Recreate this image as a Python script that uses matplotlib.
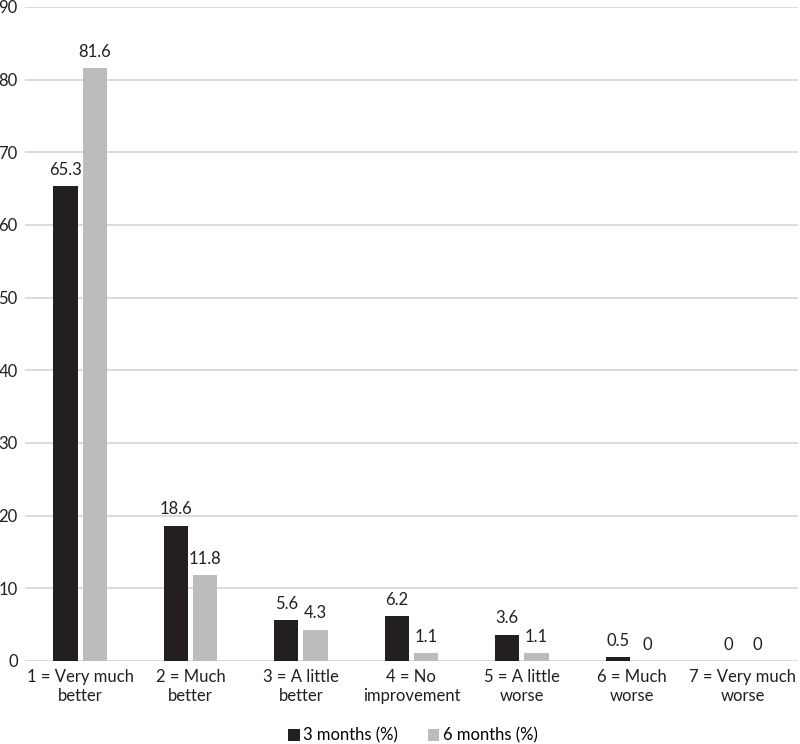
import matplotlib
matplotlib.use("Agg")
import matplotlib.pyplot as plt
import numpy as np

categories = ["1 = Very much\nbetter", "2 = Much\nbetter", "3 = A little\nbetter",
              "4 = No\nimprovement", "5 = A little\nworse", "6 = Much\nworse",
              "7 = Very much\nworse"]
three_months = [65.3, 18.6, 5.6, 6.2, 3.6, 0.5, 0]
six_months = [81.6, 11.8, 4.3, 1.1, 1.1, 0, 0]
series_names = ["3 months (%)", "6 months (%)"]

plt.rcParams['font.family'] = ['Lato', 'DejaVu Sans']
FS = 12

fig = plt.figure(figsize=(8, 7.44), dpi=100)
ax = fig.add_axes([0.031, 0.1116, 0.9665, 0.879])

x = np.arange(len(categories))
w = 0.22
gap = 0.045
b1 = ax.bar(x - (w + gap) / 2, three_months, w, color="#231f20", label=series_names[0], zorder=3)
b2 = ax.bar(x + (w + gap) / 2, six_months, w, color="#bcbcbc", label=series_names[1], zorder=3)

for bars, vals in ((b1, three_months), (b2, six_months)):
    for rect, v in zip(bars, vals):
        ax.annotate(f"{v:g}", (rect.get_x() + rect.get_width() / 2, v),
                    xytext=(0, 6), textcoords="offset points",
                    ha="center", va="bottom", fontsize=FS, color="#231f20")

ax.set_xlim(-0.5, len(categories) - 0.5)
ax.set_ylim(0, 90)
ax.set_yticks(np.arange(0, 91, 10))
ax.yaxis.grid(True, color="#d9d9d9", linewidth=1.3, zorder=0)
ax.set_axisbelow(True)
for s in ax.spines.values():
    s.set_visible(False)
ax.axhline(0, color="#d9d9d9", linewidth=1.3, zorder=1)
ax.tick_params(axis="both", length=0, labelsize=FS, colors="#231f20")
ax.tick_params(axis="y", pad=5)
ax.tick_params(axis="x", pad=6)
ax.set_xticks(x)
ax.set_xticklabels(categories, linespacing=1.2)

fig.legend(handles=[b1, b2], labels=series_names, loc="center", bbox_to_anchor=(0.516, 0.011),
           ncol=2, frameon=False, fontsize=FS, handlelength=0.7, handleheight=0.7,
           handletextpad=0.2, columnspacing=1.8, borderpad=0)

fig.savefig("out.png", dpi=100)
